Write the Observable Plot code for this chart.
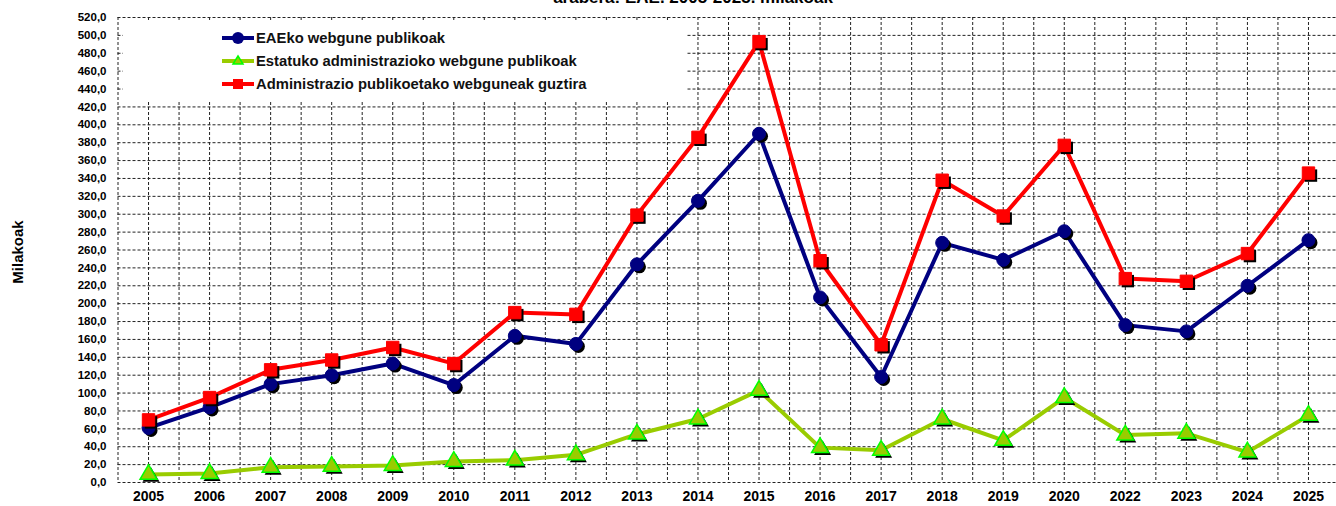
<!DOCTYPE html>
<html>
<head>
<meta charset="utf-8">
<script src="https://cdn.jsdelivr.net/npm/d3@7"></script>
<script src="https://cdn.jsdelivr.net/npm/@observablehq/plot@0.6"></script>
<style>
  html, body { margin: 0; padding: 0; background: #fff; overflow: hidden; }
  #wrap { position: relative; width: 1336px; height: 506px; overflow: hidden; font-family: Arial, "Liberation Sans", sans-serif; }
  #title { position: absolute; top: -11px; left: 0; width: 1386px; text-align: center; font-weight: bold; font-size: 17px; line-height: 17px; color: #000; white-space: nowrap; }
  #legend { position: absolute; left: 123px; top: 22px; width: 564px; height: 79px; background: #fff; }
  .row { position: absolute; left: 99px; height: 20px; display: flex; align-items: center; font-weight: bold; font-size: 14.8px; color: #111; white-space: nowrap; }
  .row svg { margin-right: 2px; }
</style>
</head>
<body>
<div id="wrap">
  <div id="chart"></div>
  <div id="title">arabera: EAE. 2005-2025. milakoak</div>
  <div id="legend"></div>
</div>
<script>
const years = ["2005","2006","2007","2008","2009","2010","2011","2012","2013","2014","2015","2016","2017","2018","2019","2020","2022","2023","2024","2025"];
const eaeko = [61, 84, 110, 120, 133, 109, 164, 155, 244, 315, 390, 207, 118, 268, 249, 281, 176, 169, 220, 271];
const estatuko = [9, 10, 17, 18, 19, 23.5, 25, 31, 54, 71, 103, 39, 36, 71, 47, 95, 53, 55, 34, 75];
const guztira = [70, 95, 126, 137, 151, 133, 190, 188, 299, 386, 493, 248, 154, 338, 298, 377, 228, 225, 256, 346];
const seriesNames = ["EAEko webgune publikoak", "Estatuko administrazioko webgune publikoak", "Administrazio publikoetako webguneak guztira"];
const yTicks = d3.range(0, 521, 20);
const yLabel = "Milakoak";

const mk = (vals) => vals.map((v, i) => ({i, year: years[i], value: v}));
const dEae = mk(eaeko), dEst = mk(estatuko), dTot = mk(guztira);
const halfSteps = d3.range(-0.5, years.length, 0.5);
const fmt = v => d3.format(".1f")(v).replace(".", ",");

const blue = "#000080", green = "#99cc00", greenStroke = "#00ff00", red = "#ff0000";

function seriesMarks(data, color, symbol, r, fill, stroke, sw) {
  return [
    Plot.line(data, {x: "i", y: "value", stroke: color, strokeWidth: 4, strokeLinejoin: "round"}),
    Plot.dot(data, {x: "i", y: "value", symbol, r, fill: "#000", stroke: "none", dx: 2.5, dy: 2.5}),
    Plot.dot(data, {x: "i", y: "value", symbol, r, fill, stroke, strokeWidth: sw})
  ];
}

const chart = Plot.plot({
  width: 1336,
  height: 506,
  marginTop: 17,
  marginBottom: 24,
  marginLeft: 117.5,
  marginRight: 0,
  style: {fontFamily: "Arial, 'Liberation Sans', sans-serif", fontWeight: "bold", color: "#000", background: "transparent"},
  x: {domain: [-0.5, years.length - 0.5], range: [117.5, 1338.5]},
  y: {domain: [0, 520]},
  marks: [
    Plot.ruleY(yTicks, {stroke: "#222", strokeDasharray: "3,2", strokeWidth: 1}),
    Plot.ruleX(halfSteps, {stroke: "#222", strokeDasharray: "3,2", strokeWidth: 1}),
    Plot.axisY({ticks: yTicks, tickSize: 0, tickPadding: 11.5, tickFormat: fmt, label: null, fontSize: 11.5, fontWeight: "bold"}),
    Plot.axisX({ticks: d3.range(years.length), tickSize: 0, tickPadding: 9, tickFormat: i => years[i], label: null, fontSize: 14, fontWeight: "bold"}),
    Plot.text([yLabel], {frameAnchor: "left", dx: -100, dy: 2, rotate: -90, textAnchor: "middle", fontSize: 15, fontWeight: "bold", fill: "#000"}),
    ...seriesMarks(dEae, blue, "circle", 6.5, blue, blue, 1),
    ...seriesMarks(dEst, green, "triangle", 6.3, green, greenStroke, 1.5),
    ...seriesMarks(dTot, red, "square", 7, red, red, 1)
  ]
});
document.getElementById("chart").appendChild(chart);

// Legend
const legend = document.getElementById("legend");
const legendSpecs = [
  {name: seriesNames[0], color: blue, sym: "circle", fill: blue, stroke: blue},
  {name: seriesNames[1], color: green, sym: "triangle", fill: green, stroke: greenStroke},
  {name: seriesNames[2], color: red, sym: "square", fill: red, stroke: red}
];
legendSpecs.forEach((s, k) => {
  const row = document.createElement("div");
  row.className = "row";
  row.style.top = (6 + k * 23) + "px";
  let symEl = "";
  if (s.sym === "circle") symEl = `<circle cx="16" cy="10" r="6" fill="${s.fill}"/>`;
  if (s.sym === "triangle") symEl = `<path d="M16,5 L21,13 L11,13 Z" fill="${s.fill}" stroke="${s.stroke}" stroke-width="1.5"/>`;
  if (s.sym === "square") symEl = `<rect x="11" y="5" width="10" height="10" fill="${s.fill}"/>`;
  row.innerHTML = `<svg width="32" height="20"><line x1="0" x2="32" y1="10" y2="10" stroke="${s.color}" stroke-width="4"/>${symEl}</svg><span>${s.name}</span>`;
  legend.appendChild(row);
});
</script>
</body>
</html>
